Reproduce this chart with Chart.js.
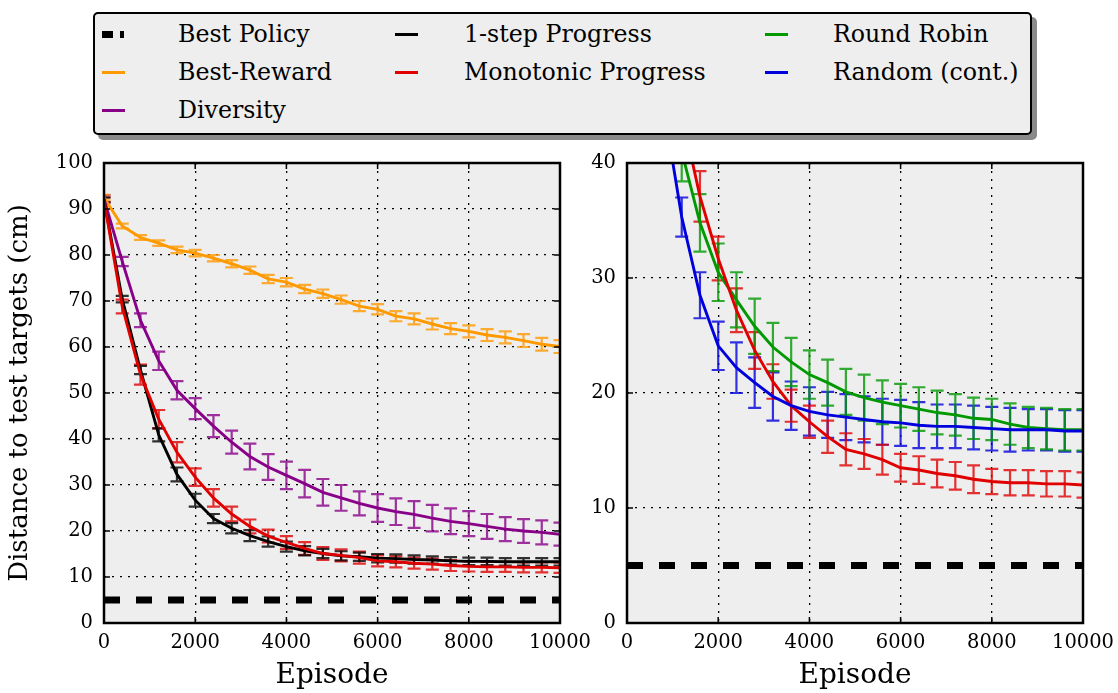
<!DOCTYPE html>
<html>
<head>
<meta charset="utf-8">
<script src="https://cdn.jsdelivr.net/npm/chart.js@4"></script>
<style>
  body { margin: 0; background: #fff; }
  #page { position: relative; width: 1118px; height: 693px; overflow: hidden; font-family: 'DejaVu Serif', serif; }
  .panel { position: absolute; top: 140px; }
  #legend {
    position: absolute; left: 93px; top: 12px; width: 935px; height: 119px;
    background: #eeeeee; border: 2.5px solid #000; border-radius: 5px;
    box-shadow: 5px 5px 0 #8a8a8a;
  }
  .item { position: absolute; height: 30px; font-size: 23.7px; line-height: 30px; color: #000; white-space: nowrap; }
  .handle { position: absolute; top: 14px; height: 3px; width: 23px; }
</style>
</head>
<body>
<div id="page">
  <div class="panel" style="left:0"><canvas id="leftChart" width="590" height="553"></canvas></div>
  <div class="panel" style="left:590px"><canvas id="rightChart" width="528" height="553"></canvas></div>
  <div id="legend"></div>
</div>
<script>
// episodes where the runs were evaluated
const episodes = [0, 400, 800, 1200, 1600, 2000, 2400, 2800, 3200, 3600, 4000, 4400, 4800,
                  5200, 5600, 6000, 6400, 6800, 7200, 7600, 8000, 8400, 8800, 9200, 9600, 10000];

const bestPolicyX = [0, 10000];
const bestPolicy = [5, 5];

const bestReward = [92.5, 86.3, 83.8, 82.6, 81.1, 80.4, 79.3, 78.1, 76.7, 74.8, 74.1, 72.6, 71.6,
                    70.3, 68.9, 68.2, 66.7, 66.1, 65.0, 64.0, 63.4, 62.6, 62.1, 61.4, 60.6, 60.1];
const bestRewardErr = [0.6, 0.5, 0.5, 0.6, 0.7, 0.7, 0.7, 0.8, 0.8, 0.9, 0.9, 0.9, 0.9,
                       0.9, 1.1, 1.1, 1.1, 1.2, 1.2, 1.2, 1.3, 1.3, 1.3, 1.4, 1.4, 1.4];

const diversity = [92.2, 78.6, 65.8, 57.0, 50.6, 46.6, 42.8, 39.3, 36.2, 33.9, 32.1, 30.3, 28.4,
                   27.2, 26.0, 25.0, 24.2, 23.6, 22.8, 22.1, 21.6, 21.0, 20.4, 20.0, 19.7, 19.3];
const diversityErr = [0.8, 1.0, 1.5, 2.0, 2.0, 2.3, 2.4, 2.5, 2.8, 2.8, 3.0, 3.0, 2.9,
                      2.8, 2.6, 3.0, 2.9, 2.9, 2.9, 2.8, 2.7, 2.7, 2.6, 2.6, 2.6, 2.5];

const oneStep = [92.0, 70.4, 55.0, 40.9, 32.3, 26.7, 22.7, 20.6, 19.0, 17.7, 16.6, 15.7, 15.1,
                 14.6, 14.4, 14.1, 14.0, 13.8, 13.7, 13.5, 13.4, 13.4, 13.3, 13.3, 13.3, 13.3];
const oneStepErr = [0.5, 0.7, 0.9, 1.4, 1.5, 1.4, 1.0, 1.1, 1.2, 1.1, 1.1, 1.0, 1.0,
                    1.0, 0.9, 0.9, 0.9, 0.9, 0.8, 0.8, 0.8, 0.8, 0.8, 0.8, 0.8, 0.8];

const monotonic = [92.0, 68.8, 54.0, 44.3, 37.1, 31.7, 27.2, 23.7, 21.0, 18.9, 17.5, 16.2, 15.1,
                   14.7, 14.2, 13.5, 13.3, 13.0, 12.8, 12.5, 12.3, 12.2, 12.2, 12.1, 12.1, 12.0];
const monotonicErr = [0.5, 1.5, 2.2, 2.0, 2.2, 1.9, 1.9, 1.6, 1.5, 1.4, 1.4, 1.4, 1.4,
                      1.3, 1.3, 1.2, 1.2, 1.2, 1.2, 1.2, 1.1, 1.1, 1.1, 1.1, 1.1, 1.1];

const roundRobin = [92.0, 68.0, 52.0, 41.0, 34.8, 30.5, 28.1, 25.8, 24.0, 22.7, 21.6, 20.9, 20.1,
                    19.6, 19.2, 18.9, 18.6, 18.3, 18.1, 17.8, 17.7, 17.3, 17.0, 16.9, 16.8, 16.8];
const roundRobinErr = [1.0, 2.0, 2.5, 2.6, 2.5, 2.5, 2.4, 2.4, 2.1, 2.1, 2.1, 2.0, 2.0,
                       2.0, 1.9, 1.9, 1.9, 1.9, 1.8, 1.8, 1.8, 1.8, 1.8, 1.8, 1.8, 1.8];

const randomCont = [92.0, 64.0, 45.0, 35.3, 28.5, 24.1, 22.2, 20.9, 19.7, 18.9, 18.4, 18.1, 17.9,
                    17.7, 17.5, 17.4, 17.2, 17.1, 17.1, 17.0, 16.9, 16.8, 16.8, 16.8, 16.7, 16.7];
const randomContErr = [1.0, 1.5, 1.6, 1.7, 2.0, 2.1, 2.2, 2.2, 2.1, 2.1, 2.1, 2.0, 2.0,
                       2.0, 2.0, 2.0, 2.0, 1.9, 1.9, 1.9, 1.9, 1.9, 1.8, 1.8, 1.8, 1.8];

const xTicks = [0, 2000, 4000, 6000, 8000, 10000];
const leftYTicks = [0, 10, 20, 30, 40, 50, 60, 70, 80, 90, 100];
const rightYTicks = [0, 10, 20, 30, 40];

// legend entries, filled column by column like matplotlib (ncol = 3)
const legendNames = ['Best Policy', 'Best-Reward', 'Diversity', '1-step Progress',
                     'Monotonic Progress', 'Round Robin', 'Random (cont.)'];
const legendColors = ['#000000', '#ff9900', '#880088', '#000000', '#e00000', '#009900', '#0000dd'];
const legendColumnSizes = [3, 2, 2];

const FONT = "'DejaVu Serif', serif";
Chart.defaults.font.family = FONT;
Chart.defaults.color = '#000';

function pairs(ys, xs) {
    return ys.map((v, i) => ({ x: (xs || episodes)[i], y: v }));
}

function series(name, values, errs, color) {
    return {
        label: name,
        data: pairs(values),
        errors: errs,
        borderColor: color,
        borderWidth: 2.9,
        pointRadius: 0,
        tension: 0,
        fill: false
    };
}

function bestPolicySeries() {
    return {
        label: 'Best Policy',
        data: pairs(bestPolicy, bestPolicyX),
        borderColor: '#000',
        borderWidth: 7,
        borderDash: [16, 16],
        borderCapStyle: 'butt',
        pointRadius: 0
    };
}

// background, frame and inward ticks like the matplotlib original
const framePlugin = {
    id: 'frame',
    beforeDraw(chart) {
        const { ctx, chartArea: a } = chart;
        ctx.save();
        ctx.fillStyle = '#eeeeee';
        ctx.fillRect(a.left, a.top, a.right - a.left, a.bottom - a.top);
        ctx.restore();
    },
    afterDraw(chart) {
        const { ctx, chartArea: a, scales } = chart;
        ctx.save();
        ctx.strokeStyle = '#000';
        ctx.lineWidth = 1.5;
        ctx.beginPath();
        scales.x.ticks.forEach(t => {
            const px = scales.x.getPixelForValue(t.value);
            ctx.moveTo(px, a.bottom); ctx.lineTo(px, a.bottom - 6);
            ctx.moveTo(px, a.top); ctx.lineTo(px, a.top + 6);
        });
        scales.y.ticks.forEach(t => {
            const py = scales.y.getPixelForValue(t.value);
            ctx.moveTo(a.left, py); ctx.lineTo(a.left + 6, py);
            ctx.moveTo(a.right, py); ctx.lineTo(a.right - 6, py);
        });
        ctx.stroke();
        ctx.lineWidth = 2.5;
        ctx.strokeRect(a.left, a.top, a.right - a.left, a.bottom - a.top);
        ctx.restore();
    }
};

// vertical error bars with caps, drawn through the chart's own scales
const errorBarPlugin = {
    id: 'errorBars',
    beforeDatasetsDraw(chart) {
        const { ctx, chartArea: a, scales: { x, y } } = chart;
        ctx.save();
        ctx.beginPath();
        ctx.rect(a.left, a.top, a.right - a.left, a.bottom - a.top);
        ctx.clip();
        chart.data.datasets.forEach(ds => {
            if (!ds.errors) return;
            ctx.strokeStyle = ds.borderColor;
            ctx.globalAlpha = 0.8;
            ctx.lineWidth = 2.2;
            ds.data.forEach((p, i) => {
                const px = x.getPixelForValue(p.x);
                const top = y.getPixelForValue(p.y + ds.errors[i]);
                const bot = y.getPixelForValue(p.y - ds.errors[i]);
                ctx.beginPath();
                ctx.moveTo(px, top); ctx.lineTo(px, bot);
                ctx.moveTo(px - 6.5, top); ctx.lineTo(px + 6.5, top);
                ctx.moveTo(px - 6.5, bot); ctx.lineTo(px + 6.5, bot);
                ctx.stroke();
            });
        });
        ctx.restore();
    }
};

function makeOptions(yMax, yTicks, yWidth, rightPad, yTitle) {
    return {
        responsive: false,
        animation: false,
        layout: { autoPadding: false, padding: { top: 23, right: rightPad, left: 0, bottom: 0 } },
        plugins: { legend: { display: false }, tooltip: { enabled: false } },
        scales: {
            x: {
                type: 'linear', min: 0, max: 10000,
                afterBuildTicks: s => { s.ticks = xTicks.map(v => ({ value: v })); },
                afterFit: s => { s.height = 70; s.paddingLeft = 0; s.paddingRight = 0; },
                ticks: { font: { size: 19.5 }, padding: 8, maxRotation: 0, autoSkip: false,
                         callback: v => String(v) },
                grid: { color: '#000', lineWidth: 1.3, drawTicks: false },
                border: { display: false, dash: [2, 6] },
                title: { display: true, text: 'Episode', font: { size: 28 }, padding: { top: 0, bottom: 0 } }
            },
            y: {
                type: 'linear', min: 0, max: yMax,
                afterBuildTicks: s => { s.ticks = yTicks.map(v => ({ value: v })); },
                afterFit: s => { s.width = yWidth; s.paddingTop = 0; s.paddingBottom = 0; },
                ticks: { font: { size: 19.5 }, padding: 11, autoSkip: false, callback: v => String(v) },
                grid: { color: '#000', lineWidth: 1.3, drawTicks: false },
                border: { display: false, dash: [2, 6] },
                title: { display: !!yTitle, text: yTitle || '', font: { size: 26 }, padding: { top: 5, bottom: 0 } }
            }
        }
    };
}

new Chart(document.getElementById('leftChart').getContext('2d'), {
    type: 'line',
    data: {
        datasets: [
            bestPolicySeries(),
            series('Monotonic Progress', monotonic, monotonicErr, legendColors[4]),
            series('1-step Progress', oneStep, oneStepErr, legendColors[3]),
            series('Diversity', diversity, diversityErr, legendColors[2]),
            series('Best-Reward', bestReward, bestRewardErr, legendColors[1])
        ]
    },
    options: makeOptions(100, leftYTicks, 104, 30, 'Distance to test targets (cm)'),
    plugins: [framePlugin, errorBarPlugin]
});

new Chart(document.getElementById('rightChart').getContext('2d'), {
    type: 'line',
    data: {
        datasets: [
            bestPolicySeries(),
            series('Random (cont.)', randomCont, randomContErr, legendColors[6]),
            series('Monotonic Progress', monotonic, monotonicErr, legendColors[4]),
            series('Round Robin', roundRobin, roundRobinErr, legendColors[5])
        ]
    },
    options: makeOptions(40, rightYTicks, 37, 35, null),
    plugins: [framePlugin, errorBarPlugin]
});

// Legend box
const legend = document.getElementById('legend');
const colHandleX = [7, 300, 670];
const colTextX = [83, 369, 738];
const rowY = [5, 43, 81];
let idx = 0;
legendColumnSizes.forEach((size, col) => {
    for (let row = 0; row < size; row++, idx++) {
        const name = legendNames[idx];
        const item = document.createElement('div');
        item.className = 'item';
        item.style.left = colHandleX[col] + 'px';
        item.style.top = rowY[row] + 'px';
        if (name === 'Best Policy') {
            item.innerHTML = '<span class="handle" style="left:0;width:11px;height:7px;top:12px;background:#000"></span>' +
                             '<span class="handle" style="left:18px;width:4px;height:7px;top:12px;background:#000"></span>';
        } else {
            item.innerHTML = '<span class="handle" style="left:0;background:' + legendColors[idx] + '"></span>';
        }
        const label = document.createElement('span');
        label.textContent = name;
        label.style.position = 'absolute';
        label.style.left = (colTextX[col] - colHandleX[col]) + 'px';
        item.appendChild(label);
        legend.appendChild(item);
    }
});
</script>
</body>
</html>
